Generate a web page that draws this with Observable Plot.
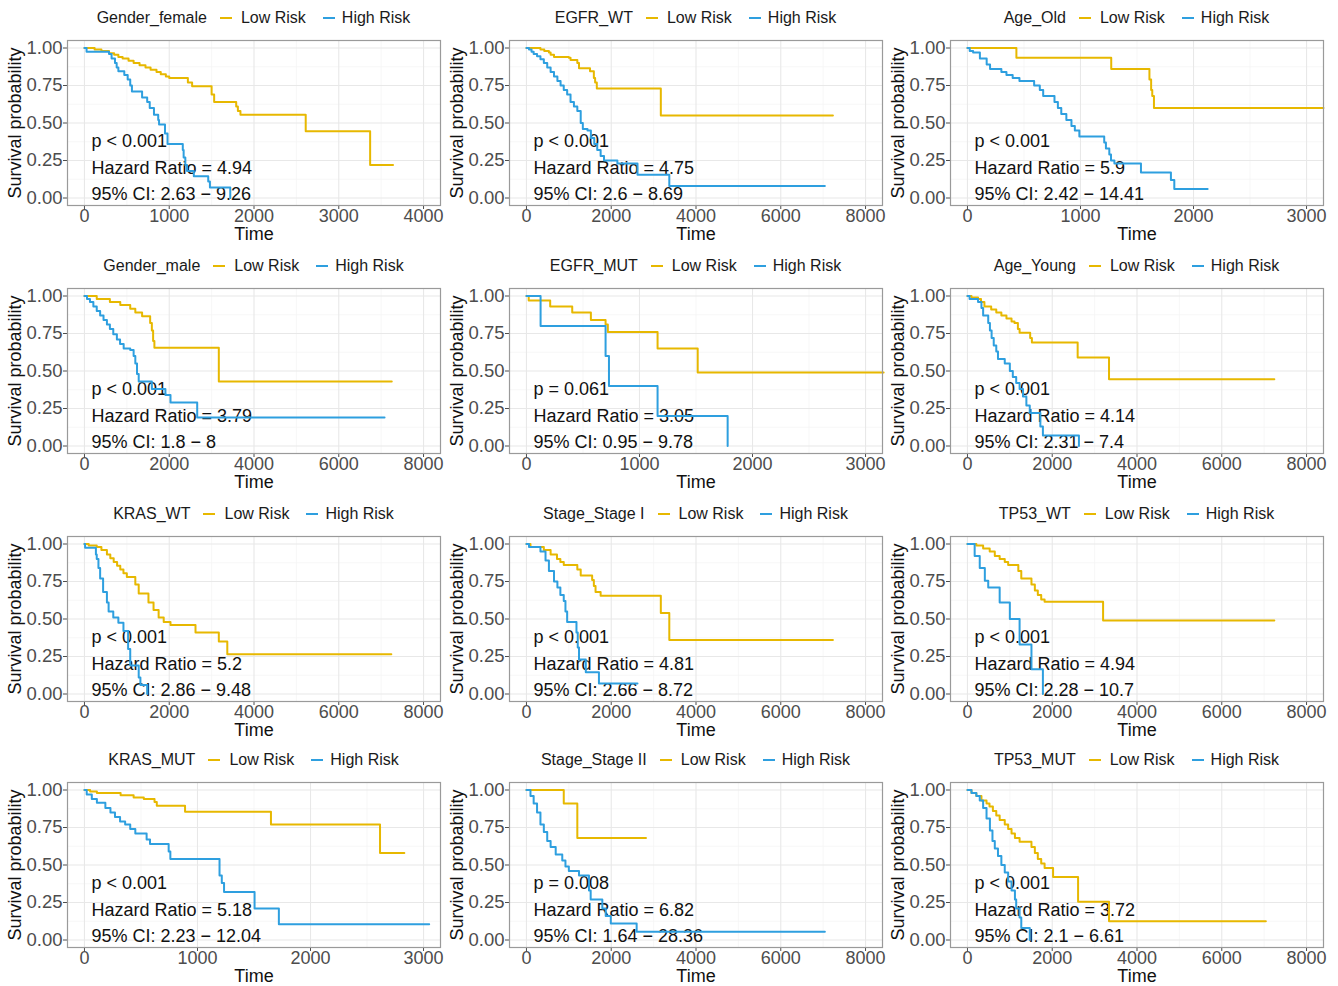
<!DOCTYPE html>
<html>
<head>
<meta charset="utf-8">
<script src="https://cdn.jsdelivr.net/npm/d3@7"></script>
<script src="https://cdn.jsdelivr.net/npm/@observablehq/plot@0.6"></script>
<style>
  body { margin: 0; background: #fff; }
  #root { position: relative; width: 1338px; height: 986px; background: #fff; font-family: "Liberation Sans", Arial, sans-serif; }
  .panel { position: absolute; }
  .legend { position: absolute; display: flex; align-items: center; justify-content: center; font-size: 16px; color: #1a1a1a; height: 26px; white-space: nowrap; }
  .sw { display: inline-block; width: 12px; height: 2px; }
</style>
</head>
<body>
<div id="root"></div>
<script>
// ---- panel meta ----
const groups = ["Gender_female","EGFR_WT","Age_Old","Gender_male","EGFR_MUT","Age_Young","KRAS_WT","Stage_Stage I","TP53_WT","KRAS_MUT","Stage_Stage II","TP53_MUT"];
const pLabels = ["p < 0.001","p < 0.001","p < 0.001","p < 0.001","p = 0.061","p < 0.001","p < 0.001","p < 0.001","p < 0.001","p < 0.001","p = 0.008","p < 0.001"];
const hazardRatios = ["4.94","4.75","5.9","3.79","3.05","4.14","5.2","4.81","4.94","5.18","6.82","3.72"];
const ciLows = ["2.63","2.6","2.42","1.8","0.95","2.31","2.86","2.66","2.28","2.23","1.64","2.1"];
const ciHighs = ["9.26","8.69","14.41","8","9.78","7.4","9.48","8.72","10.7","12.04","28.36","6.61"];
const xMaxes = [4000,8000,3000,8000,3000,8000,8000,8000,8000,3000,8000,8000];
const riskGroups = ["Low Risk","High Risk"];
const riskColors = ["#E7B800","#2E9FDF"];
const yTicks = [0,0.25,0.5,0.75,1];
const yMinorTicks = [0.125,0.375,0.625,0.875];

// ---- survival curves: [time, survival probability] ----
const femaleLow = [[0,1],[120,0.99],[200,0.98],[290,0.965],[350,0.955],[400,0.94],[450,0.93],[520,0.915],[580,0.90],[650,0.885],[720,0.87],[780,0.855],[850,0.84],[900,0.825],[960,0.81],[1000,0.80],[1220,0.77],[1270,0.745],[1500,0.69],[1530,0.64],[1790,0.61],[1810,0.58],[1840,0.555],[2610,0.445],[3370,0.22],[3640,0.22]];
const femaleHigh = [[0,1],[25,0.975],[290,0.96],[320,0.93],[360,0.90],[380,0.87],[400,0.845],[470,0.82],[510,0.79],[540,0.75],[560,0.71],[680,0.67],[740,0.64],[770,0.60],[820,0.555],[870,0.52],[880,0.49],[950,0.43],[980,0.36],[1160,0.32],[1170,0.27],[1190,0.22],[1210,0.18],[1290,0.145],[1460,0.11],[1480,0.07],[1720,0]];
const egfrWtLow = [[0,1],[330,0.99],[420,0.98],[530,0.97],[570,0.955],[650,0.94],[1000,0.935],[1040,0.92],[1200,0.90],[1240,0.865],[1500,0.845],[1590,0.80],[1620,0.77],[1660,0.73],[3170,0.55],[7230,0.55]];
const egfrWtHigh = [[0,1],[60,0.99],[120,0.975],[170,0.96],[250,0.945],[330,0.925],[410,0.90],[490,0.87],[570,0.84],[650,0.81],[730,0.78],[805,0.75],[880,0.72],[960,0.69],[1040,0.64],[1120,0.61],[1200,0.58],[1280,0.50],[1330,0.46],[1440,0.45],[1520,0.40],[1600,0.36],[1670,0.32],[1750,0.28],[1830,0.25],[2145,0.23],[2620,0.155],[3370,0.08],[7040,0.08]];
const ageOldLow = [[0,1],[433,0.935],[1272,0.86],[1610,0.79],[1625,0.72],[1635,0.68],[1650,0.60],[3150,0.60]];
const ageOldHigh = [[0,1],[20,0.98],[50,0.97],[110,0.93],[170,0.89],[200,0.86],[300,0.84],[345,0.82],[400,0.80],[460,0.78],[590,0.75],[640,0.72],[670,0.68],[770,0.64],[800,0.60],[830,0.56],[875,0.52],[920,0.48],[950,0.45],[990,0.41],[1210,0.37],[1225,0.33],[1255,0.29],[1270,0.25],[1300,0.23],[1535,0.17],[1800,0.12],[1830,0.06],[2125,0.06]];
const maleLow = [[0,1],[290,0.98],[600,0.96],[845,0.94],[1080,0.915],[1200,0.89],[1360,0.865],[1550,0.82],[1590,0.77],[1620,0.70],[1650,0.655],[3170,0.43],[7250,0.43]];
const maleHigh = [[0,1],[60,0.98],[130,0.96],[210,0.93],[290,0.90],[370,0.87],[450,0.84],[530,0.81],[600,0.78],[680,0.745],[765,0.71],[840,0.68],[925,0.65],[1080,0.64],[1160,0.60],[1200,0.55],[1240,0.48],[1280,0.43],[1590,0.38],[1910,0.34],[2030,0.29],[2660,0.19],[7080,0.19]];
const egfrMutLow = [[0,1],[20,0.97],[210,0.93],[405,0.89],[570,0.84],[700,0.81],[720,0.76],[1160,0.65],[1515,0.49],[3160,0.49]];
const egfrMutHigh = [[0,1],[125,0.80],[700,0.60],[730,0.40],[1160,0.20],[1780,0]];
const ageYoungLow = [[0,1],[95,0.99],[250,0.98],[320,0.96],[400,0.93],[560,0.91],[680,0.89],[800,0.87],[920,0.85],[1040,0.83],[1110,0.82],[1190,0.78],[1230,0.755],[1480,0.72],[1520,0.69],[2600,0.59],[3340,0.445],[7240,0.445]];
const ageYoungHigh = [[0,1],[50,0.98],[250,0.96],[330,0.92],[370,0.87],[490,0.82],[530,0.77],[570,0.72],[620,0.67],[680,0.63],[720,0.58],[880,0.55],[1000,0.50],[1070,0.46],[1150,0.42],[1230,0.38],[1310,0.33],[1390,0.27],[1470,0.22],[1720,0.13],[1780,0.07],[2630,0]];
const krasWtLow = [[0,1],[100,0.99],[290,0.98],[400,0.96],[530,0.93],[610,0.905],[690,0.88],[770,0.855],[845,0.83],[920,0.805],[1000,0.78],[1200,0.73],[1280,0.67],[1510,0.61],[1630,0.56],[1750,0.51],[1870,0.48],[2030,0.46],[2620,0.41],[3170,0.35],[3370,0.265],[7240,0.265]];
const krasWtHigh = [[0,1],[15,0.975],[270,0.93],[290,0.90],[330,0.84],[370,0.77],[440,0.68],[530,0.61],[570,0.55],[680,0.51],[800,0.475],[920,0.42],[1030,0.30],[1080,0.19],[1280,0.11],[1320,0.06],[1480,0]];
const stage1Low = [[0,1],[95,0.98],[410,0.96],[570,0.93],[720,0.90],[800,0.88],[880,0.86],[1200,0.83],[1280,0.79],[1550,0.76],[1590,0.72],[1630,0.68],[1750,0.655],[3170,0.54],[3370,0.36],[7230,0.36]];
const stage1High = [[0,1],[60,0.98],[330,0.95],[450,0.89],[530,0.82],[650,0.75],[730,0.71],[800,0.66],[880,0.62],[920,0.55],[960,0.48],[1180,0.41],[1210,0.31],[1240,0.23],[1400,0.145],[1710,0.07],[2620,0.07]];
const tp53WtLow = [[0,1],[210,0.99],[370,0.97],[525,0.95],[645,0.92],[760,0.90],[880,0.88],[960,0.86],[1200,0.82],[1270,0.77],[1510,0.73],[1590,0.69],[1660,0.66],[1740,0.63],[1820,0.615],[3200,0.49],[7240,0.49]];
const tp53WtHigh = [[0,1],[170,0.92],[290,0.84],[410,0.755],[490,0.71],[760,0.61],[1000,0.50],[1230,0.33],[1510,0.165],[1780,0]];
const krasMutLow = [[0,1],[50,0.99],[110,0.98],[320,0.965],[435,0.95],[525,0.94],[620,0.92],[640,0.895],[890,0.855],[1650,0.77],[2615,0.58],[2830,0.58]];
const krasMutHigh = [[0,1],[20,0.97],[65,0.94],[110,0.915],[185,0.88],[230,0.85],[270,0.82],[315,0.79],[360,0.77],[405,0.74],[450,0.71],[550,0.67],[580,0.64],[745,0.59],[760,0.54],[1195,0.43],[1215,0.38],[1235,0.32],[1505,0.21],[1720,0.105],[3050,0.105]];
const stage2Low = [[0,1],[880,0.91],[1200,0.68],[2820,0.68]];
const stage2High = [[0,1],[95,0.96],[170,0.91],[250,0.85],[330,0.77],[410,0.72],[490,0.66],[570,0.62],[690,0.57],[845,0.53],[920,0.49],[1000,0.46],[1240,0.43],[1475,0.33],[1515,0.27],[1790,0.21],[1870,0.16],[1990,0.11],[2600,0.055],[7040,0.055]];
const tp53MutLow = [[0,1],[95,0.98],[210,0.96],[330,0.93],[450,0.91],[520,0.89],[600,0.86],[680,0.83],[760,0.80],[880,0.77],[960,0.74],[1040,0.71],[1120,0.68],[1230,0.655],[1510,0.62],[1590,0.58],[1660,0.54],[1740,0.51],[1820,0.48],[2020,0.42],[2610,0.255],[3340,0.125],[7040,0.125]];
const tp53MutHigh = [[0,1],[95,0.98],[210,0.96],[290,0.93],[370,0.88],[450,0.81],[530,0.73],[590,0.66],[645,0.61],[720,0.56],[800,0.50],[880,0.45],[960,0.39],[1040,0.33],[1120,0.27],[1150,0.21],[1230,0.15],[1270,0.08],[1470,0]];

const lowCurves = [femaleLow, egfrWtLow, ageOldLow, maleLow, egfrMutLow, ageYoungLow, krasWtLow, stage1Low, tp53WtLow, krasMutLow, stage2Low, tp53MutLow];
const highCurves = [femaleHigh, egfrWtHigh, ageOldHigh, maleHigh, egfrMutHigh, ageYoungHigh, krasWtHigh, stage1High, tp53WtHigh, krasMutHigh, stage2High, tp53MutHigh];

// ---- layout ----
const colX = [0, 442, 883];
const rowY = [0, 248, 496, 742];
const W = 443, H = 248, ML = 67, MR = 3, MT = 40, MB = 43;
const root = document.getElementById("root");
const font = '"Liberation Sans", Arial, sans-serif';

groups.forEach((name, i) => {
  const col = i % 3, row = Math.floor(i / 3);
  const xMax = xMaxes[i];
  const step = xMax === 8000 ? 2000 : 1000;
  const xTicks = d3.range(0, xMax + 1, step);
  const xMinor = d3.range(step / 2, xMax, step);
  const data = [
    ...lowCurves[i].map(([t, s]) => ({t, s, g: riskGroups[0]})),
    ...highCurves[i].map(([t, s]) => ({t, s, g: riskGroups[1]}))
  ];
  const ann = [pLabels[i], "Hazard Ratio = " + hazardRatios[i], "95% CI: " + ciLows[i] + " \u2212 " + ciHighs[i]];
  const chart = Plot.plot({
    width: W, height: H,
    marginLeft: ML, marginRight: MR, marginTop: MT, marginBottom: MB,
    style: {fontFamily: font, background: "transparent", overflow: "visible"},
    x: {domain: [-0.05 * xMax, 1.05 * xMax]},
    y: {domain: [-0.05, 1.05]},
    color: {domain: riskGroups, range: riskColors},
    marks: [
      Plot.frame({fill: "white"}),
      Plot.ruleX(xMinor, {stroke: "#f3f3f3", strokeWidth: 0.7}),
      Plot.ruleY(yMinorTicks, {stroke: "#f3f3f3", strokeWidth: 0.7}),
      Plot.ruleX(xTicks, {stroke: "#e8e8e8", strokeWidth: 1.1}),
      Plot.ruleY(yTicks, {stroke: "#e8e8e8", strokeWidth: 1.1}),
      Plot.axisX({ticks: xTicks, tickFormat: d => String(d), tickSize: 4, tickPadding: 0, fontSize: 18, color: "#4d4d4d", label: null}),
      Plot.axisY({ticks: yTicks, tickFormat: d3.format(".2f"), tickSize: 4, tickPadding: 1, fontSize: 18.5, color: "#4d4d4d", label: null}),
      Plot.text([ann[0]], {text: d => d, frameAnchor: "top-left", dx: 24, dy: 101, textAnchor: "start", lineAnchor: "middle", fontSize: 18, fill: "#111"}),
      Plot.text([ann[1]], {text: d => d, frameAnchor: "top-left", dx: 24, dy: 128, textAnchor: "start", lineAnchor: "middle", fontSize: 18, fill: "#111"}),
      Plot.text([ann[2]], {text: d => d, frameAnchor: "top-left", dx: 24, dy: 154, textAnchor: "start", lineAnchor: "middle", fontSize: 18, fill: "#111"}),
      Plot.line(data, {x: "t", y: "s", stroke: "g", curve: "step-after", strokeWidth: 2}),
      Plot.frame({stroke: "#9a9a9a", strokeWidth: 1.2}),
      Plot.text(["Time"], {text: d => d, frameAnchor: "bottom", dy: 28.5, textAnchor: "middle", lineAnchor: "middle", fontSize: 18, fill: "#111"}),
      Plot.text(["Survival probability"], {text: d => d, frameAnchor: "left", dx: -52, rotate: -90, textAnchor: "middle", lineAnchor: "middle", fontSize: 18, fill: "#111"})
    ]
  });
  const wrap = document.createElement("div");
  wrap.className = "panel";
  wrap.style.left = colX[col] + "px";
  wrap.style.top = rowY[row] + "px";
  wrap.appendChild(chart);
  root.appendChild(wrap);

  const leg = document.createElement("div");
  leg.className = "legend";
  leg.style.left = (colX[col] + ML) + "px";
  leg.style.width = (W - ML - MR) + "px";
  leg.style.top = (rowY[row] + 5) + "px";
  leg.innerHTML =
    `<span>${name}</span>` +
    `<span class="sw" style="background:${riskColors[0]};margin-left:13px;margin-right:9px"></span><span>${riskGroups[0]}</span>` +
    `<span class="sw" style="background:${riskColors[1]};margin-left:17px;margin-right:7px"></span><span>${riskGroups[1]}</span>`;
  root.appendChild(leg);
});
</script>
</body>
</html>
